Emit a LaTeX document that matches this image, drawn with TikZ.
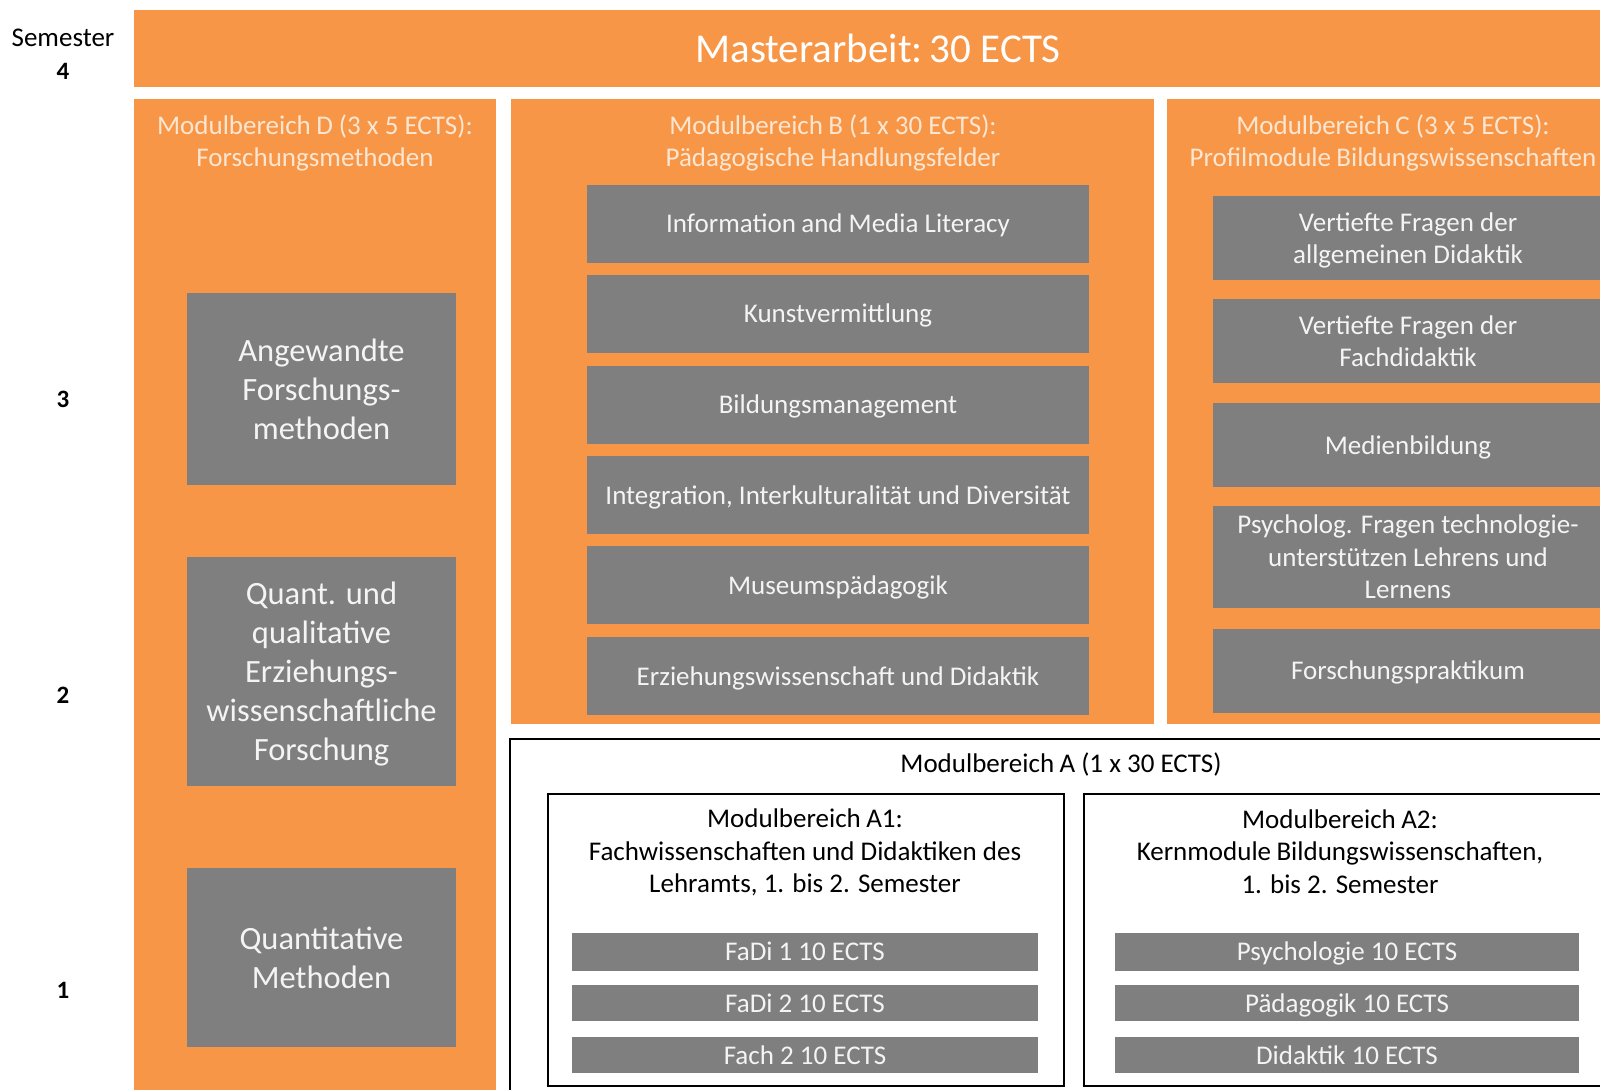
\documentclass[tikz,border=0pt]{standalone}
\usepackage{fontspec}
\setmainfont{Carlito}
\definecolor{org}{HTML}{F79646}
\definecolor{gbox}{HTML}{7F7F7F}
\definecolor{ptxt}{HTML}{FCE6D2}
\definecolor{gtxt}{HTML}{F4F4F4}
\newcommand{\gp}{\hspace{0.2em}}
\tikzset{
  panel/.style={fill=org, draw=none, inner sep=0pt},
  graybox/.style={fill=gbox, draw=none, inner sep=0pt, text=gtxt, align=center, text depth=0pt},
  ptitle/.style={text=ptxt, align=center, font=\fontsize{27}{32.5}\selectfont, inner sep=0pt, text depth=0pt},
  btxt/.style={font=\fontsize{27}{32.5}\selectfont},
  dtxt/.style={font=\fontsize{32.5}{39}\selectfont},
  wbox/.style={fill=white, draw=black, line width=1.6pt, inner sep=0pt},
  semlbl/.style={font=\fontsize{27}{30}\selectfont, inner sep=0pt},
}
\begin{document}
\begin{tikzpicture}[x=1pt,y=-1pt]
\useasboundingbox (0,0) rectangle (1600,1089);
\clip (0,0) rectangle (1600,1089);
\fill[white] (0,0) rectangle (1600,1089);
% semester labels
\node[semlbl] (sem) at (63,38) {Semester};
\node[semlbl, font=\fontsize{25}{30}\bfseries\selectfont] (s4) at (63,71) {4};
\node[semlbl, font=\fontsize{25}{30}\bfseries\selectfont] (s3) at (63,399) {3};
\node[semlbl, font=\fontsize{25}{30}\bfseries\selectfont] (s2) at (63,695) {2};
\node[semlbl, font=\fontsize{25}{30}\bfseries\selectfont] (s1) at (63,990) {1};
% top bar
\node[panel, minimum width=1488, minimum height=77, text=white, font=\fontsize{41}{44}\selectfont] (master) at (878,48.5) {Masterarbeit:\,30 ECTS};
% panel D
\node[panel, minimum width=362, minimum height=1000] (pd) at (315,599) {};
\node[ptitle] (pdt) at (315,140.5) {Modulbereich\gp D (3 x 5 ECTS):\\Forschungsmethoden};
\node[graybox, dtxt, minimum width=269, minimum height=192] (d3) at (321.5,389) {Angewandte\\Forschungs-\\methoden};
\node[graybox, dtxt, minimum width=269, minimum height=229] (d2) at (321.5,671.5) {Quant. und\\qualitative\\Erziehungs-\\wissenschaftliche\\Forschung};
\node[graybox, dtxt, minimum width=269, minimum height=179] (d1) at (321.5,957.5) {Quantitative\\Methoden};
% panel B
\node[panel, minimum width=643, minimum height=625] (pb) at (832.5,411.5) {};
\node[ptitle] (pbt) at (833,140.5) {Modulbereich\gp B (1 x 30 ECTS):\\Pädagogische Handlungsfelder};
\node[graybox, btxt, minimum width=502, minimum height=78] (b1) at (838,223.5) {Information\gp and Media Literacy};
\node[graybox, btxt, minimum width=502, minimum height=78] (b2) at (838,313.5) {Kunstvermittlung};
\node[graybox, btxt, minimum width=502, minimum height=78] (b3) at (838,404.5) {Bildungsmanagement};
\node[graybox, btxt, minimum width=502, minimum height=78] (b4) at (838,495) {Integration, Interkulturalität und Diversität};
\node[graybox, btxt, minimum width=502, minimum height=78] (b5) at (838,585) {Museumspädagogik};
\node[graybox, btxt, minimum width=502, minimum height=78] (b6) at (838,676) {Erziehungswissenschaft und Didaktik};
% panel C
\node[panel, minimum width=452, minimum height=625] (pc) at (1393,411.5) {};
\node[ptitle] (pct) at (1393,140.5) {Modulbereich\gp C (3 x 5 ECTS):\\Profilmodule\gp Bildungswissenschaften};
\node[graybox, btxt, minimum width=390, minimum height=84] (c1) at (1408,238) {Vertiefte Fragen der\\allgemeinen Didaktik};
\node[graybox, btxt, minimum width=390, minimum height=84] (c2) at (1408,341) {Vertiefte Fragen der\\Fachdidaktik};
\node[graybox, btxt, minimum width=390, minimum height=84] (c3) at (1408,445) {Medienbildung};
\node[graybox, btxt, minimum width=390, minimum height=102] (c4) at (1408,557) {Psycholog. Fragen technologie-\\unterstützen\gp Lehrens und\\Lernens};
\node[graybox, btxt, minimum width=390, minimum height=84] (c5) at (1408,670.5) {Forschungspraktikum};
% panel A
\node[wbox, minimum width=1102, minimum height=370] (pa) at (1061,924) {};
\node[btxt, inner sep=0pt] (pat) at (1061,764) {Modulbereich\gp A (1 x 30 ECTS)};
\node[wbox, minimum width=516, minimum height=292] (a1) at (806,940) {};
\node[btxt, align=center, inner sep=0pt] (a1t) at (805,852.5) {Modulbereich\gp A1:\\Fachwissenschaften und Didaktiken des\\Lehramts, 1. bis 2. Semester};
\node[graybox, btxt, minimum width=466, minimum height=38] (a11) at (805,951.5) {FaDi 1 10 ECTS};
\node[graybox, btxt, minimum width=466, minimum height=36] (a12) at (805,1003) {FaDi 2 10 ECTS};
\node[graybox, btxt, minimum width=466, minimum height=36] (a13) at (805,1055) {Fach 2 10 ECTS};
\node[wbox, minimum width=520, minimum height=292] (a2) at (1344,940) {};
\node[btxt, align=center, inner sep=0pt] (a2t) at (1340,851.5) {Modulbereich\gp A2:\\Kernmodule\gp Bildungswissenschaften,\\1. bis 2. Semester};
\node[graybox, btxt, minimum width=464, minimum height=38] (a21) at (1347,951.5) {Psychologie 10 ECTS};
\node[graybox, btxt, minimum width=464, minimum height=36] (a22) at (1347,1003) {Pädagogik 10 ECTS};
\node[graybox, btxt, minimum width=464, minimum height=36] (a23) at (1347,1055) {Didaktik 10 ECTS};
\end{tikzpicture}
\end{document}
